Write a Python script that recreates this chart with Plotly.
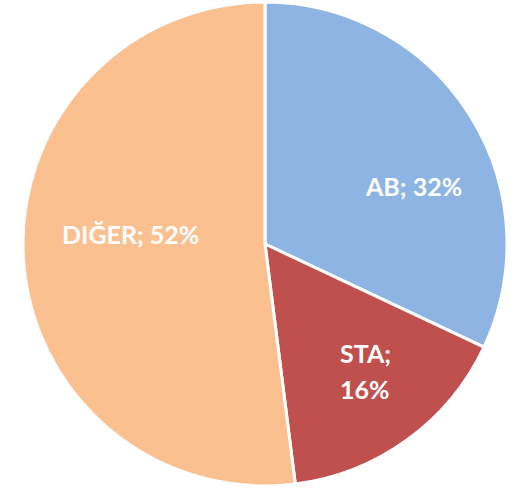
import plotly.graph_objects as go

labels = ["AB", "STA", "DIĞER"]
values = [32, 16, 52]
colors = ["#8EB4E3", "#C0504D", "#FAC090"]

W, H = 525, 488

fig = go.Figure(go.Pie(
    labels=labels,
    values=values,
    sort=False,
    direction="clockwise",
    rotation=0,
    marker=dict(colors=colors, line=dict(color="white", width=3)),
    textinfo="none",
    hoverinfo="label+percent",
    domain=dict(x=[23 / W, 507 / W], y=[2 / H, 486 / H]),
    showlegend=False,
))

# label anchor positions (pixels) for each slice's data label
label_pos = {"AB": [(413, 186)], "STA": [(365, 353), (365, 389)], "DIĞER": [(130, 234)]}
font = dict(family="Lato, Carlito, sans-serif", size=25, color="white")
annotations = []
for lab, val in zip(labels, values):
    pos = label_pos[lab]
    if len(pos) == 1:
        texts = [f"<b>{lab}; {val}%</b>"]
    else:
        texts = [f"<b>{lab};</b>", f"<b>{val}%</b>"]
    for (px, py), t in zip(pos, texts):
        annotations.append(dict(x=px / W, y=1 - py / H, xref="paper", yref="paper",
                                text=t, showarrow=False, font=font,
                                xanchor="center", yanchor="middle"))

fig.update_layout(
    width=W, height=H,
    margin=dict(l=0, r=0, t=0, b=0),
    paper_bgcolor="white",
    plot_bgcolor="white",
    annotations=annotations,
)

fig.write_html("out.html", config={"displayModeBar": False},
               post_script="document.body.style.margin='0';")
